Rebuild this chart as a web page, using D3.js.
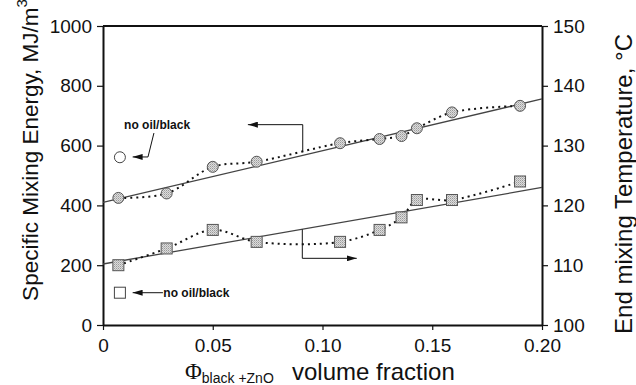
<!DOCTYPE html>
<html>
<head>
<meta charset="utf-8">
<script src="https://cdn.jsdelivr.net/npm/d3@7"></script>
<style>
  html, body { margin: 0; padding: 0; background: #fff; }
  svg { display: block; }
  text { font-family: "Liberation Sans", Arial, sans-serif; fill: #111; }
</style>
</head>
<body>
<svg id="chart" width="636" height="385"></svg>
<script>
// ---- Data ----
const energyX = [0.007, 0.029, 0.050, 0.070, 0.108, 0.126, 0.136, 0.143, 0.159, 0.190];
const energyY = [425, 440, 529, 546, 608, 622, 632, 658, 711, 733];
const energyFit = [410, 756];           // at x = 0 and x = 0.20
const energyNoOil = [0.0077, 561];

const tempX = [0.007, 0.029, 0.050, 0.070, 0.108, 0.126, 0.136, 0.143, 0.159, 0.190];
const tempY = [110.0, 112.8, 115.9, 113.9, 113.9, 115.9, 118.0, 120.9, 120.9, 124.0];
const tempFit = [110.2, 123.0];         // at x = 0 and x = 0.20
const tempNoOil = [0.0077, 105.4];

const xTicks = [0, 0.05, 0.10, 0.15, 0.20];
const xTickLabels = ["0", "0.05", "0.10", "0.15", "0.20"];
const yLeftTicks = [0, 200, 400, 600, 800, 1000];
const yRightTicks = [100, 110, 120, 130, 140, 150];

// ---- Layout ----
const svg = d3.select("#chart");
const L = 103, R = 542, T = 26, B = 325;
const x = d3.scaleLinear().domain([0, 0.20]).range([L, R]);
const yL = d3.scaleLinear().domain([0, 1000]).range([B, T]);
const yR = d3.scaleLinear().domain([100, 150]).range([B, T]);

// patterns & markers
const defs = svg.append("defs");
const pat = defs.append("pattern").attr("id", "stip").attr("patternUnits", "userSpaceOnUse")
  .attr("width", 2).attr("height", 2);
pat.append("rect").attr("width", 2).attr("height", 2).attr("fill", "#dcdcdc");
pat.append("rect").attr("width", 1).attr("height", 1).attr("fill", "#9a9a9a");
pat.append("rect").attr("x", 1).attr("y", 1).attr("width", 1).attr("height", 1).attr("fill", "#b8b8b8");
defs.append("marker").attr("id", "arr").attr("viewBox", "0 0 10 6")
  .attr("refX", 10).attr("refY", 3).attr("markerWidth", 10).attr("markerHeight", 6)
  .attr("markerUnits", "userSpaceOnUse").attr("orient", "auto")
  .append("path").attr("d", "M0,0 L10,3 L0,6 Z").attr("fill", "#111");

// ---- Axes ----
const axStyle = g => {
  g.select(".domain").attr("stroke", "#111").attr("stroke-width", 2);
  g.selectAll(".tick line").attr("stroke", "#111").attr("stroke-width", 1.2);
  g.selectAll(".tick text").attr("font-size", 19).attr("font-family", "Liberation Sans, Arial, sans-serif").attr("fill", "#111");
};
svg.append("g").attr("transform", `translate(0,${B})`)
  .call(d3.axisBottom(x).tickValues(xTicks).tickFormat((d, i) => xTickLabels[i]).tickSize(5).tickSizeOuter(0).tickPadding(9))
  .call(axStyle);
svg.append("g").attr("transform", `translate(${L},0)`)
  .call(d3.axisLeft(yL).tickValues(yLeftTicks).tickFormat(d3.format("d")).tickSize(6).tickSizeOuter(0).tickPadding(5))
  .call(axStyle);
svg.append("g").attr("transform", `translate(${R},0)`)
  .call(d3.axisRight(yR).tickValues(yRightTicks).tickFormat(d3.format("d")).tickSize(6).tickSizeOuter(0).tickPadding(5))
  .call(axStyle);
svg.append("line").attr("x1", L).attr("x2", R).attr("y1", T).attr("y2", T)
  .attr("stroke", "#111").attr("stroke-width", 2);

// ---- Fit lines ----
svg.append("line").attr("x1", x(0)).attr("x2", x(0.20)).attr("y1", yL(energyFit[0])).attr("y2", yL(energyFit[1]))
  .attr("stroke", "#444").attr("stroke-width", 1.3);
svg.append("line").attr("x1", x(0)).attr("x2", x(0.20)).attr("y1", yR(tempFit[0])).attr("y2", yR(tempFit[1]))
  .attr("stroke", "#444").attr("stroke-width", 1.3);

// ---- Dotted curves ----
const eData = energyX.map((d, i) => [d, energyY[i]]);
const tData = tempX.map((d, i) => [d, tempY[i]]);
const lineE = d3.line().x(d => x(d[0])).y(d => yL(d[1])).curve(d3.curveCatmullRom.alpha(0.5));
const lineT = d3.line().x(d => x(d[0])).y(d => yR(d[1])).curve(d3.curveCatmullRom.alpha(0.5));
svg.append("path").attr("d", lineE(eData)).attr("fill", "none").attr("stroke", "#111")
  .attr("stroke-width", 2).attr("stroke-dasharray", "2,4");
svg.append("path").attr("d", lineT(tData)).attr("fill", "none").attr("stroke", "#111")
  .attr("stroke-width", 2).attr("stroke-dasharray", "2,4");

// ---- Markers ----
svg.append("g").selectAll("circle").data(eData).join("circle")
  .attr("cx", d => x(d[0])).attr("cy", d => yL(d[1])).attr("r", 5.5)
  .attr("fill", "url(#stip)").attr("stroke", "#555").attr("stroke-width", 1);
svg.append("g").selectAll("rect").data(tData).join("rect")
  .attr("x", d => x(d[0]) - 5.5).attr("y", d => yR(d[1]) - 5.5).attr("width", 11).attr("height", 11)
  .attr("fill", "url(#stip)").attr("stroke", "#555").attr("stroke-width", 1);
svg.append("circle").attr("cx", x(energyNoOil[0])).attr("cy", yL(energyNoOil[1])).attr("r", 5.5)
  .attr("fill", "#fff").attr("stroke", "#444").attr("stroke-width", 1);
svg.append("rect").attr("x", x(tempNoOil[0]) - 5.5).attr("y", yR(tempNoOil[1]) - 5.5).attr("width", 11).attr("height", 11)
  .attr("fill", "#fff").attr("stroke", "#444").attr("stroke-width", 1);

// ---- Annotations ----
const ann = svg.append("g").attr("fill", "none").attr("stroke", "#111").attr("stroke-width", 1);
// circles -> left axis
ann.append("path").attr("d", `M${x(0.091)},${yL(578)} V${yL(670)} H${x(0.066)}`).attr("marker-end", "url(#arr)");
// squares -> right axis
ann.append("path").attr("d", `M${x(0.0908)},${yR(116.0)} V${yR(111.15)} H${x(0.1156)}`).attr("marker-end", "url(#arr)");
// no oil/black (upper)
ann.append("path").attr("d", `M${x(0.0232)},${yL(642)} L${x(0.0205)},${yL(562)} H${x(0.0135)}`).attr("marker-end", "url(#arr)");
// no oil/black (lower)
ann.append("path").attr("d", `M${x(0.0273)},${yR(tempNoOil[1])} H${x(0.0135)}`).attr("marker-end", "url(#arr)");

svg.append("text").attr("x", x(0.0096)).attr("y", yL(670) + 4.5)
  .attr("font-size", 12).attr("font-weight", "bold").text("no oil/black");
svg.append("text").attr("x", x(0.0275)).attr("y", yR(tempNoOil[1]) + 4.5)
  .attr("font-size", 12).attr("font-weight", "bold").text("no oil/black");

// ---- Axis titles ----
const lt = svg.append("text").attr("transform", "translate(38,150) rotate(-90)")
  .attr("text-anchor", "middle").attr("font-size", 22.5);
lt.append("tspan").text("Specific Mixing Energy, MJ/m");
lt.append("tspan").attr("font-size", 15).attr("dy", -11).text("3");

svg.append("text").attr("transform", "translate(632,184) rotate(-90)")
  .attr("text-anchor", "middle").attr("font-size", 24).text("End mixing Temperature, °C");

const xt = svg.append("text").attr("x", 185).attr("y", 379).attr("font-size", 22);
xt.append("tspan").attr("font-family", "Liberation Serif, Times New Roman, serif").attr("font-size", 23).text("Φ");
xt.append("tspan").attr("font-size", 14).attr("dy", 4).text("black +ZnO");
svg.append("text").attr("x", 292).attr("y", 380).attr("font-size", 24).text("volume fraction");
</script>
</body>
</html>
